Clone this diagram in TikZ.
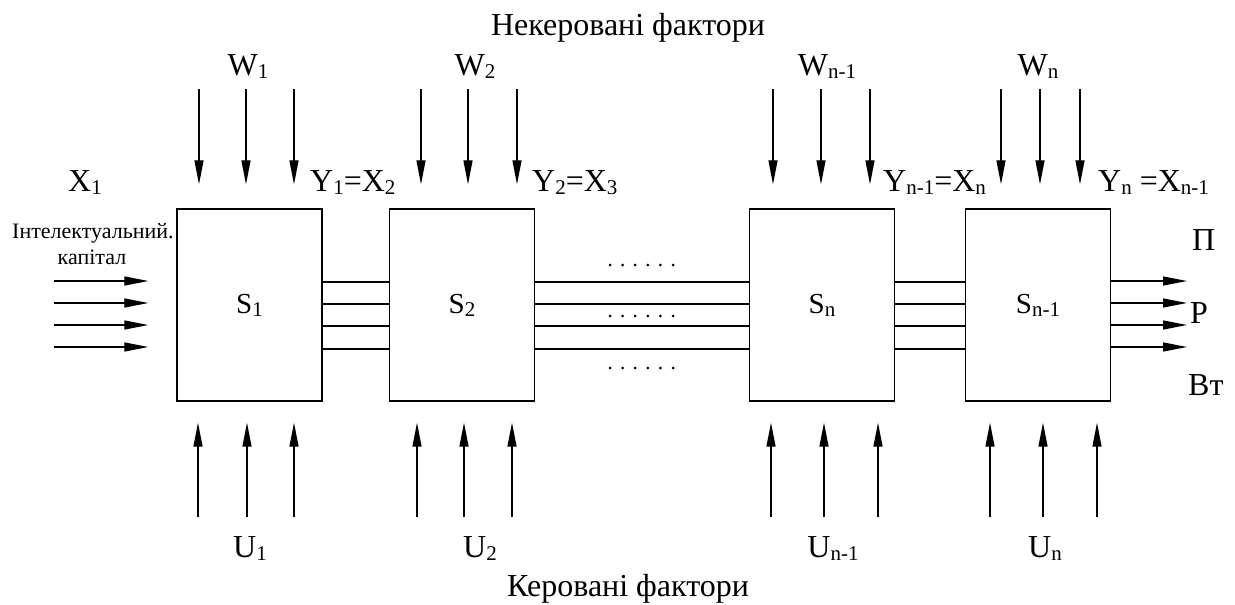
\documentclass[tikz,border=0pt]{standalone}
\usepackage{fontspec}
\setmainfont{Liberation Serif}
\usetikzlibrary{arrows.meta, positioning, calc}

\newcommand{\lowidx}[1]{\raisebox{-3pt}{\fontsize{21}{21}\selectfont #1}}

\tikzset{
  block/.style={draw, line width=1.4pt, minimum width=145pt, minimum height=192pt,
    inner sep=0pt, font=\fontsize{29}{32}\selectfont},
  lbl/.style={font=\fontsize{32}{34}\selectfont, inner sep=0pt, anchor=base},
  small/.style={font=\fontsize{22}{24}\selectfont, inner sep=0pt, anchor=base},
  flow/.style={line width=1.3pt, -{Triangle[length=24pt, width=9pt]}},
  link/.style={line width=1.3pt}
}

\begin{document}
\begin{tikzpicture}[x=1pt, y=-1pt]
  \useasboundingbox (0,0) rectangle (1235,605);

  % Subsystems
  \node[block] (s1) at (249.5,305) {S\lowidx{1}};
  \node[block] (s2) at (462,305) {S\lowidx{2}};
  \node[block] (sn) at (822,305) {S\lowidx{n}};
  \node[block] (snm) at (1038,305) {S\lowidx{n-1}};

  % Links between subsystems
  \foreach \y in {282,304,326,349} {
    \draw[link] (s1.east |- 0,\y) -- (s2.west |- 0,\y);
    \draw[link] (s2.east |- 0,\y) -- (sn.west |- 0,\y);
    \draw[link] (sn.east |- 0,\y) -- (snm.west |- 0,\y);
  }

  % Dots
  \foreach \y in {265,316,368}
    \foreach \k in {0,...,5}
      \fill (610+12.6*\k,\y) circle (1.5pt);

  % Input and output flows
  \foreach \y in {281,303,325,347} {
    \coordinate (in) at (54,\y);
    \coordinate (out) at (1187,\y);
    \draw[flow, shorten >=28pt] (in) -- (s1.west |- in);
    \draw[flow] (snm.east |- out) -- (out);
  }

  % Uncontrolled factors
  \foreach \x in {199,246,294,421,468,517,773,821,870,1001,1040,1080} {
    \coordinate (wt) at (\x,89);
    \draw[flow, shorten >=24pt] (wt) -- (wt |- s1.north);
  }

  % Controlled factors
  \foreach \x in {198,247,294,417,464,512,771,824,878,990,1043,1097} {
    \coordinate (ub) at (\x,517);
    \draw[flow, shorten >=21pt] (ub) -- (ub |- s1.south);
  }

  % Labels
  \node[lbl] (top) at (628,35) {Некеровані фактори};
  \node[lbl] (bottom) at (628,596) {Керовані фактори};

  \node[lbl] (w1) at (248,75) {W\lowidx{1}};
  \node[lbl] (w2) at (475,75) {W\lowidx{2}};
  \node[lbl] (wn1) at (827,75) {W\lowidx{n-1}};
  \node[lbl] (wn) at (1038,75) {W\lowidx{n}};

  \node[lbl] (u1) at (250,557) {U\lowidx{1}};
  \node[lbl] (u2) at (480,557) {U\lowidx{2}};
  \node[lbl] (un1) at (833,557) {U\lowidx{n-1}};
  \node[lbl] (un) at (1045,557) {U\lowidx{n}};

  \node[lbl, anchor=base west] (x1) at (68,191) {X\lowidx{1}};
  \node[lbl, anchor=base west] (y1) at (310,191) {Y\lowidx{1}=X\lowidx{2}};
  \node[lbl, anchor=base west] (y2) at (532,191) {Y\lowidx{2}=X\lowidx{3}};
  \node[lbl, anchor=base west] (yn1) at (883,191) {Y\lowidx{n-1}=X\lowidx{n}};
  \node[lbl, anchor=base west] (yn) at (1098,191) {Y\lowidx{n} =X\lowidx{n-1}};

  \node[small, anchor=base west] (ic) at (12,238) {Інтелектуальний.};
  \node[small] (cap) at (92,264) {капітал};

  \node[lbl, anchor=base west] (pr) at (1192,250) {П};
  \node[lbl, anchor=base west] (rt) at (1190,323) {Р};
  \node[lbl, anchor=base west] (vt) at (1188,395) {Вт};

\end{tikzpicture}
\end{document}
